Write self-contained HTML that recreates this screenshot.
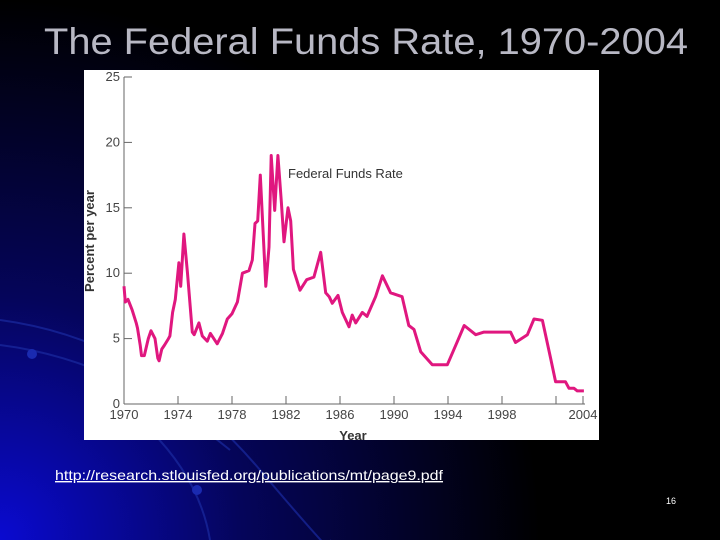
<!DOCTYPE html>
<html><head><meta charset="utf-8"><style>
html,body{margin:0;padding:0;background:#000;}
svg{display:block;}
</style></head><body>
<svg width="720" height="540" viewBox="0 0 720 540" xmlns="http://www.w3.org/2000/svg" font-family="Liberation Sans, Arial, sans-serif">
<defs>
<radialGradient id="bg" cx="0" cy="1" r="0.75" gradientTransform="scale(1,1.33) translate(0,-0.25)">
<stop offset="0" stop-color="#0a0ad0"/><stop offset="0.45" stop-color="#05055a"/><stop offset="1" stop-color="#000"/>
</radialGradient>
</defs>
<rect width="720" height="540" fill="#000"/>
<rect width="720" height="540" fill="url(#bg)"/>
<g fill="none" stroke="#1a2aa0" stroke-width="2" opacity="0.7">
<path d="M0 320 Q150 340 260 470 T330 540"/>
<path d="M0 345 Q120 360 230 450"/>
<path d="M150 430 Q200 480 210 540"/>
</g>
<circle cx="32" cy="354" r="5" fill="#1a2ab0"/>
<circle cx="197" cy="490" r="5" fill="#1a2ab0"/>
<text x="44" y="54" font-size="37" fill="#b8b8c4" textLength="644" lengthAdjust="spacingAndGlyphs">The Federal Funds Rate, 1970-2004</text>
<rect x="84" y="70" width="515" height="370" fill="#fff"/>
<g id="chart"></g>
<text x="55" y="480" font-size="14" fill="#fff" text-decoration="underline" textLength="388" lengthAdjust="spacingAndGlyphs">http://research.stlouisfed.org/publications/mt/page9.pdf</text>
<text x="666" y="504" font-size="9" fill="#fff">16</text>
</svg>
<script>
const years = [1970.0,1970.1,1970.3,1970.6,1970.9,1971.0,1971.2,1971.3,1971.5,1971.8,1972.0,1972.3,1972.5,1972.6,1972.8,1973.0,1973.3,1973.4,1973.6,1973.8,1974.07,1974.2,1974.44,1974.7,1975.06,1975.2,1975.55,1975.8,1976.17,1976.4,1976.9,1977.3,1977.65,1978.0,1978.4,1978.77,1979.26,1979.5,1979.7,1979.9,1980.1,1980.5,1980.74,1980.9,1981.16,1981.4,1981.65,1981.85,1982.15,1982.35,1982.55,1983.04,1983.53,1984.07,1984.57,1984.94,1985.2,1985.43,1985.85,1986.17,1986.67,1986.9,1987.16,1987.65,1988.0,1988.64,1989.14,1989.75,1990.6,1991.1,1991.48,1991.98,1992.84,1993.95,1994.7,1995.2,1996.05,1996.67,1998.64,1999.0,1999.88,2000.37,2000.99,2001.6,2001.97,2002.7,2002.96,2003.33,2003.58,2004.07];
const rates = [9.0,7.8,8.0,7.2,6.2,5.8,4.5,3.7,3.7,5.0,5.6,5.0,3.5,3.3,4.2,4.5,5.0,5.2,7.0,8.0,10.8,9.0,13.0,10.0,5.5,5.3,6.2,5.2,4.8,5.4,4.6,5.4,6.5,6.9,7.8,10.0,10.2,11.0,13.8,14.0,17.5,9.0,12.0,19.0,14.8,19.0,15.5,12.4,15.0,14.0,10.3,8.7,9.5,9.7,11.6,8.5,8.2,7.7,8.3,7.0,5.9,6.8,6.2,7.0,6.7,8.2,9.8,8.5,8.2,6.0,5.7,4.0,3.0,3.0,4.8,6.0,5.3,5.5,5.5,4.7,5.3,6.5,6.4,3.5,1.7,1.7,1.2,1.2,1.0,1.0];
const xTicks = [1970,1974,1978,1982,1986,1990,1994,1998,2002,2004];
const xLabels = ['1970','1974','1978','1982','1986','1990','1994','1998','','2004'];
const yTicks = [0,5,10,15,20,25];

const NS='http://www.w3.org/2000/svg';
const g=document.getElementById('chart');
const x0=124,x1=583,y0=404,yTop=77;
const xs=v=>x0+(v-1970)/34*(x1-x0);
const ys=v=>y0-v/25*(y0-yTop);
function mk(t,a){const e=document.createElementNS(NS,t);for(const k in a)e.setAttribute(k,a[k]);g.appendChild(e);return e;}
let e=mk('line',{x1:x0,y1:yTop,x2:x0,y2:y0,stroke:'#666','stroke-width':1});


e=mk('line',{x1:x0,y1:y0,x2:x1+2,y2:y0,stroke:'#666','stroke-width':1});


yTicks.forEach(v=>{
 let t=mk('line',{x1:x0,y1:ys(v),x2:x0+8,y2:ys(v),stroke:'#666','stroke-width':1});
 
 
 let l=mk('text',{x:x0-4,y:ys(v)+4,'font-size':13,fill:'#444','text-anchor':'end'});
 l.textContent=v;
 
 
});
xTicks.forEach((v,i)=>{
 let t=mk('line',{x1:xs(v),y1:y0,x2:xs(v),y2:y0-8,stroke:'#666','stroke-width':1});
 
 
 let l=mk('text',{x:xs(v),y:y0+15,'font-size':13,fill:'#444','text-anchor':'middle'});
 l.textContent=xLabels[i];
 
 
});
let d=years.map((yr,i)=>(i?'L':'M')+xs(yr).toFixed(1)+' '+ys(rates[i]).toFixed(1)).join(' ');
let p=mk('path',{d:d,fill:'none',stroke:'#e0177f','stroke-width':3,'stroke-linejoin':'round'});


let s=mk('text',{x:288,y:178,'font-size':13,fill:'#333'});
s.textContent='Federal Funds Rate';


let xt=mk('text',{x:353,y:440,'font-size':13,'font-weight':'bold',fill:'#333','text-anchor':'middle'});
xt.textContent='Year';


let yt=mk('text',{x:0,y:0,'font-size':13,'font-weight':'bold',fill:'#333','text-anchor':'middle',transform:'translate(94,241) rotate(-90)'});
yt.textContent='Percent per year';


</script>
</body></html>
